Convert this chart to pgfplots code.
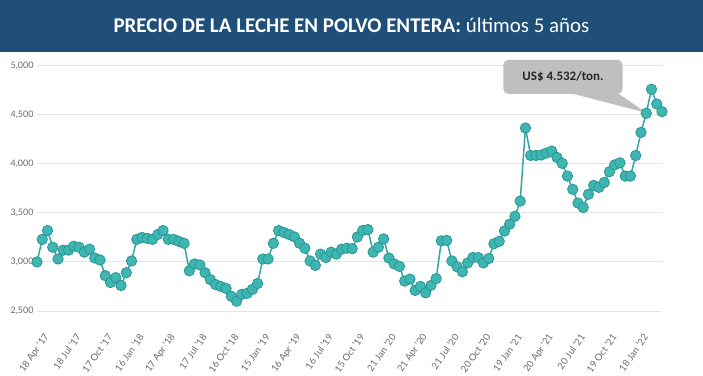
\documentclass[border=0pt]{standalone}
\usepackage{fontspec}
\setmainfont{Lato}
\newfontfamily\carlito{Carlito}
\usepackage{pgfplots}
\pgfplotsset{compat=1.18}
\definecolor{banner}{RGB}{31,78,121}
\definecolor{teal1}{RGB}{64,182,178}
\definecolor{teal2}{RGB}{40,150,146}
\definecolor{tealline}{RGB}{52,166,162}
\definecolor{gridc}{RGB}{228,228,228}
\definecolor{tickc}{RGB}{105,105,105}
\definecolor{callout}{RGB}{191,191,191}
\definecolor{callouttext}{RGB}{38,38,38}

\begin{document}
\begin{tikzpicture}
\useasboundingbox (-37bp,-65bp) rectangle (666bp,311bp);
\fill[banner] (-37bp,259bp) rectangle (666bp,311bp);
\node[text=white, font=\carlito\fontsize{21}{24}\selectfont] at (314.5bp,286bp)
  {\textbf{PRECIO DE LA LECHE EN POLVO ENTERA:} últimos 5 años};
\begin{axis}[
  at={(0,0)}, anchor=south west,
  scale only axis, width=625bp, height=245.3bp,
  xmin=0, xmax=119, ymin=2500, ymax=5000,
  clip=false,
  axis line style={draw=none},
  major tick length=0pt,
  ymajorgrids, grid style={gridc, line width=1bp},
  ytick={2500,3000,3500,4000,4500,5000},
  xtick={0,6,...,114},
  xticklabels={18 Apr '17, 18 Jul '17, 17 Oct '17, 16 Jan '18, 17 Apr '18, 17 Jul '18, 16 Oct '18, 15 Jan '19, 16 Apr '19, 16 Jul '19, 15 Oct '19, 21 Jan '20, 21 Apr '20, 21 Jul '20, 20 Oct '20, 19 Jan '21, 20 Apr '21, 20 Jul '21, 19 Oct '21, 18 Jan '22},
  /pgf/number format/1000 sep={,},
  /pgf/number format/assume math mode=true,
  yticklabel style={font=\fontsize{9}{10}\selectfont, text=tickc},
  xticklabel style={font=\fontsize{9.5}{10}\selectfont, text=tickc, inner sep=0pt, anchor=east, xshift=10bp, yshift=-24bp, rotate=55},
]
\addplot[tealline, line width=1.5bp, mark=*, mark size=5.2bp,
  mark options={fill=teal1, draw=teal2, line width=0.8bp}] coordinates {
(0,3000) (1,3230) (2,3320) (3,3150) (4,3030) (5,3120) (6,3120) (7,3160) (8,3150) (9,3100)
(10,3130) (11,3040) (12,3020) (13,2860) (14,2790) (15,2840) (16,2760) (17,2890) (18,3010) (19,3230)
(20,3250) (21,3240) (22,3230) (23,3280) (24,3320) (25,3230) (26,3230) (27,3210) (28,3190) (29,2910)
(30,2980) (31,2970) (32,2890) (33,2820) (34,2770) (35,2750) (36,2730) (37,2650) (38,2600) (39,2670)
(40,2680) (41,2720) (42,2780) (43,3030) (44,3030) (45,3190) (46,3320) (47,3300) (48,3280) (49,3255)
(50,3190) (51,3140) (52,3010) (53,2965) (54,3080) (55,3045) (56,3100) (57,3080) (58,3130) (59,3140)
(60,3135) (61,3255) (62,3320) (63,3330) (64,3100) (65,3150) (66,3235) (67,3040) (68,2980) (69,2955)
(70,2805) (71,2825) (72,2710) (73,2750) (74,2685) (75,2760) (76,2830) (77,3215) (78,3220) (79,3010)
(80,2950) (81,2900) (82,2990) (83,3045) (84,3045) (85,2990) (86,3035) (87,3185) (88,3210) (89,3315)
(90,3385) (91,3465) (92,3620) (93,4365) (94,4085) (95,4085) (96,4090) (97,4110) (98,4130) (99,4065)
(100,4005) (101,3875) (102,3740) (103,3600) (104,3555) (105,3690) (106,3780) (107,3760) (108,3810) (109,3920)
(110,3990) (111,4010) (112,3875) (113,3875) (114,4085) (115,4320) (116,4515) (117,4760) (118,4610) (119,4532)
};
\fill[callout] (axis cs:101.6,4720) -- (axis cs:116,4520) -- (axis cs:110.6,4720) -- cycle;
\fill[callout, rounded corners=5bp] (axis cs:88.8,4713) rectangle (axis cs:111.5,5060);
\node[text=callouttext, font=\carlito\bfseries\fontsize{13}{15}\selectfont] at (axis cs:100.15,4886) {US\$ 4.532/ton.};
\end{axis}
\end{tikzpicture}
\end{document}
